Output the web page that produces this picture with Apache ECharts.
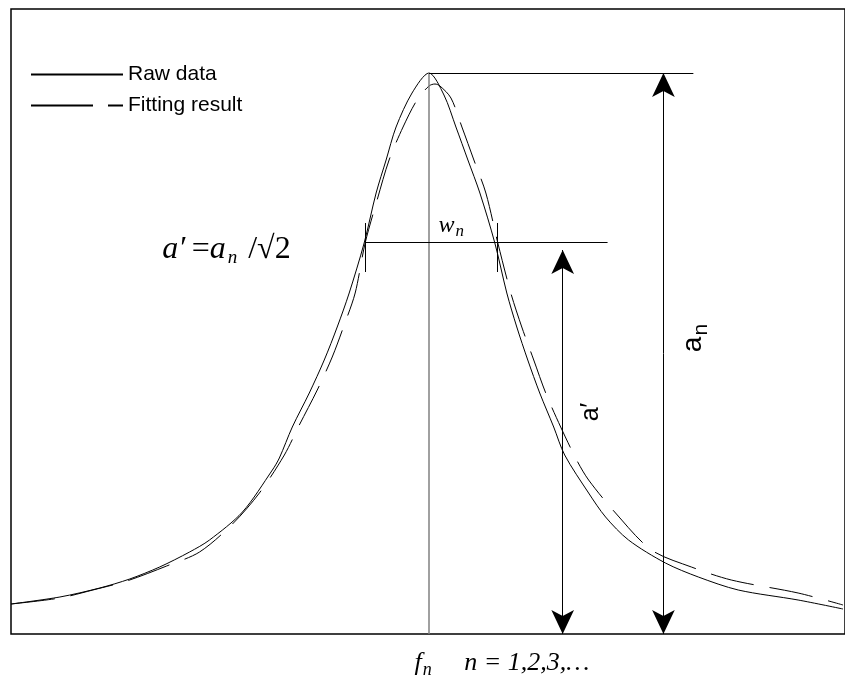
<!DOCTYPE html>
<html lang="en">
<head>
  <meta charset="UTF-8">
  <title>Resonance peak - raw data and fitting</title>
  <script src="https://cdn.jsdelivr.net/npm/echarts@6.0.0/dist/echarts.min.js"></script>
  <style>
    html, body { margin: 0; padding: 0; background: #fff; }
    #chart { width: 845px; height: 683px; }
  </style>
</head>
<body>
  <div id="chart"></div>
  <script>
    // values: [frequency, amplitude] (arbitrary units)
    const rawData = [
      [0, 30], [49, 37], [89, 46], [119, 55], [149, 67], [179, 82], [199, 94], [232, 122],
      [262, 164], [269, 176], [282, 207], [299, 241], [314, 274], [327, 307], [339, 341],
      [354, 391], [366, 441], [376, 474], [386, 507], [402, 541], [419, 561], [434, 539],
      [446, 507], [458, 474], [470, 441], [485, 391], [497, 341], [507, 307], [518, 274],
      [530, 241], [544, 207], [555, 179], [579, 141], [596, 117], [619, 94], [656, 71],
      [689, 57], [729, 44], [789, 34], [834, 25]
    ]
    const fitData = [
      [0, 30], [49, 36], [82, 44], [116, 53], [156, 68], [189, 82], [222, 110], [249, 141],
      [274, 179], [289, 209], [307, 244], [322, 277], [334, 309], [345, 341], [355, 391],
      [367, 434], [379, 474], [393, 507], [407, 534], [419, 548], [425, 550], [430, 548],
      [441, 536], [452, 507], [464, 474], [476, 441], [488, 391], [501, 341], [512, 307],
      [524, 274], [536, 241], [551, 207], [567, 174], [579, 154], [606, 121], [642, 84],
      [682, 67], [722, 54], [789, 41], [834, 29]
    ]
    const legendNames = ['Raw data', 'Fitting result']
    const bottomLabel = '{i|f}{s|n}{i|     n = 1,2,3,\u2026}'

    // peak of the raw data
    let peak = rawData[0]
    rawData.forEach(p => { if (p[1] > peak[1]) peak = p })
    const halfLevel = 392          // a' level
    const halfLeft = 355, halfRight = 487
    const anArrowX = 654, aprArrowX = 553

    const black = '#000'
    const arrowEnd = { symbol: 'arrow', symbolSize: [17, 24] }

    function seg(a, b, style, sym1, sym2) {
      const p1 = Object.assign({ coord: a }, sym1 || {})
      const p2 = Object.assign({ coord: b }, sym2 || {})
      if (style) p1.lineStyle = style
      return [p1, p2]
    }

    const serif = 'Liberation Serif'
    const sans = 'Liberation Sans'

    const chart = echarts.init(document.getElementById('chart'))
    const option = {
      animation: false,
      backgroundColor: '#fff',
      grid: {
        left: 11, right: -2, top: 9, bottom: 49,
        show: true, borderColor: black, borderWidth: 1.5
      },
      xAxis: { type: 'value', min: 0, max: 836, show: false },
      yAxis: { type: 'value', min: 0, max: 625, show: false },
      legend: {
        orient: 'vertical', left: 25, top: 59,
        itemWidth: 92, itemHeight: 14, itemGap: 10,
        itemStyle: { opacity: 0 },
        textStyle: { fontFamily: sans, fontSize: 21, color: black },
        data: [
          { name: legendNames[0] },
          { name: legendNames[1], lineStyle: { type: [62, 15] } }
        ]
      },
      series: [
        {
          name: legendNames[0], type: 'line', data: rawData,
          symbol: 'none', showSymbol: false, smooth: 0.3,
          lineStyle: { color: black, width: 1 },
          itemStyle: { color: black }
        },
        {
          name: legendNames[1], type: 'line', data: fitData,
          symbol: 'none', showSymbol: false, smooth: 0.3,
          lineStyle: { color: black, width: 1, type: [44, 16] },
          itemStyle: { color: black }
        },
        {
          name: 'annotations', type: 'line', data: [],
          markLine: {
            silent: true, symbol: ['none', 'none'],
            label: { show: false },
            lineStyle: { color: black, width: 1, type: 'solid' },
            data: [
              seg([peak[0], peak[1]], [peak[0], 0], { color: '#808080', width: 1.5 }),
              seg([peak[0], peak[1]], [684, peak[1]]),
              seg([anArrowX, peak[1]], [anArrowX, 0], null, arrowEnd, arrowEnd),
              seg([halfLeft, halfLevel], [598, halfLevel]),
              seg([halfLeft, 362], [halfLeft, 411]),
              seg([halfRight, 362], [halfRight, 411]),
              seg([aprArrowX, 384], [aprArrowX, 0], null, arrowEnd, arrowEnd)
            ]
          },
          markPoint: {
            silent: true, symbol: 'circle', symbolSize: 1,
            itemStyle: { color: 'rgba(0,0,0,0)' },
            data: [
              {
                coord: [halfLeft, halfLevel],
                label: {
                  show: true, position: 'left', distance: 74, offset: [0, 8],
                  formatter: "{i|a\u2032}{u|\u2009=}{i|a}{s|n}{u| /\u221A2}",
                  rich: {
                    i: { fontFamily: serif, fontStyle: 'italic', fontSize: 32, color: black },
                    u: { fontFamily: serif, fontSize: 32, color: black },
                    s: { fontFamily: serif, fontStyle: 'italic', fontSize: 19, color: black, padding: [16, 3, 0, 2] }
                  }
                }
              },
              {
                coord: [peak[0] + 10, halfLevel],
                label: {
                  show: true, position: [0, -1], align: 'left', verticalAlign: 'bottom',
                  formatter: '{i|w}{s|n}',
                  rich: {
                    i: { fontFamily: serif, fontStyle: 'italic', fontSize: 24, color: black },
                    s: { fontFamily: serif, fontStyle: 'italic', fontSize: 17, color: black, padding: [12, 0, 0, 1] }
                  }
                }
              },
              {
                coord: [581, 222],
                label: {
                  show: true, position: 'inside', rotate: 90,
                  formatter: "a\u2032",
                  fontFamily: sans, fontSize: 25, color: black
                }
              },
              {
                coord: [684, 296],
                label: {
                  show: true, position: 'inside', rotate: 90,
                  formatter: '{a|a}{s|n}',
                  rich: {
                    a: { fontFamily: sans, fontSize: 28, color: black },
                    s: { fontFamily: sans, fontSize: 21, color: black, padding: [15, 0, 0, 1] }
                  }
                }
              },
              {
                coord: [peak[0] - 14, 0],
                label: {
                  show: true, position: [0, 14], align: 'left', verticalAlign: 'top',
                  formatter: bottomLabel,
                  rich: {
                    i: { fontFamily: serif, fontStyle: 'italic', fontSize: 26, color: black },
                    s: { fontFamily: serif, fontStyle: 'italic', fontSize: 18, color: black, padding: [14, 0, 0, 1] }
                  }
                }
              }
            ]
          }
        }
      ]
    }
    chart.setOption(option)
  </script>
</body>
</html>
